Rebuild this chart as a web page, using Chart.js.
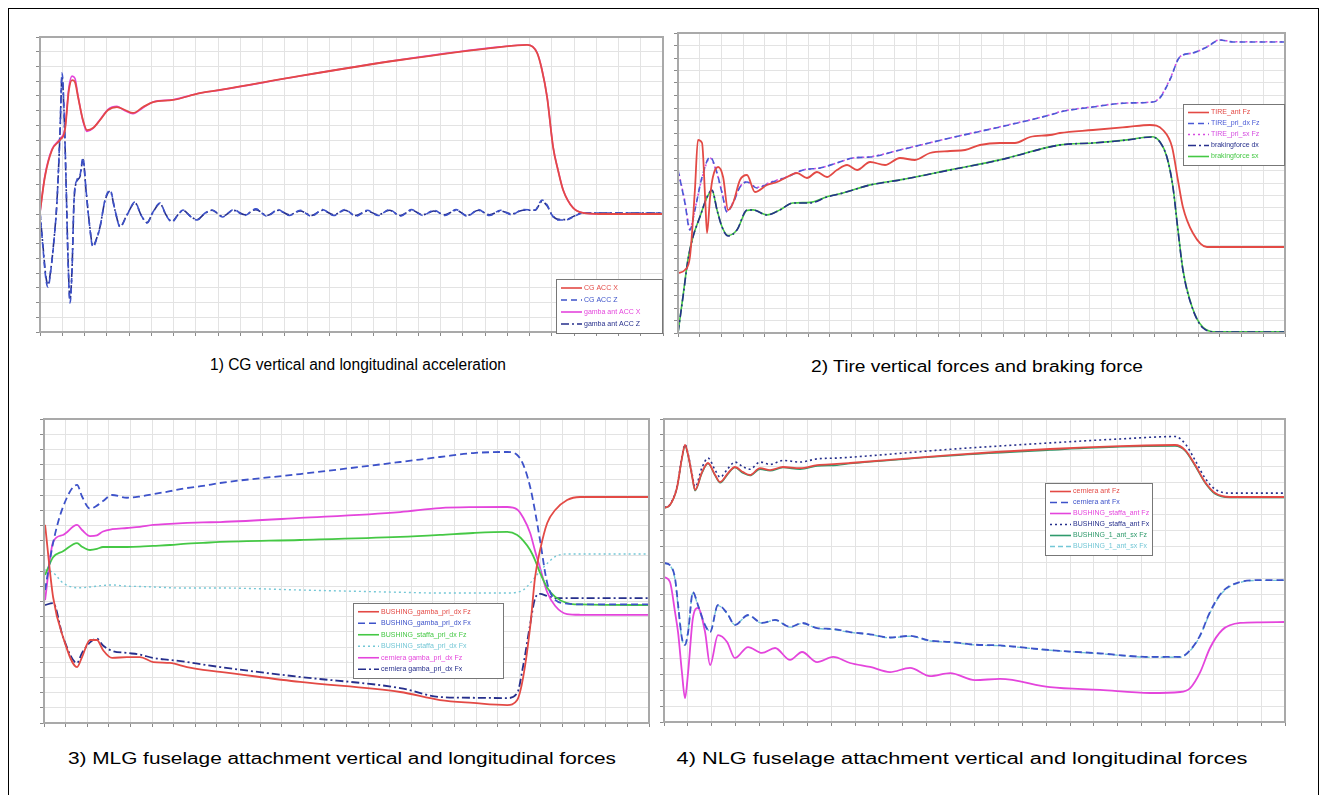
<!DOCTYPE html>
<html>
<head>
<meta charset="utf-8">
<script src="https://cdn.jsdelivr.net/npm/chart.js@4.4.1/dist/chart.umd.min.js"></script>
<style>
  body { margin: 0; background: #fff; width: 1327px; height: 795px; overflow: hidden; position: relative; font-family: "Liberation Sans", Arial, sans-serif; }
  #frame { position: absolute; left: 8px; top: 8px; width: 1309px; height: 790px; border: 1px solid #000; }
  canvas { position: absolute; }
  .cap { position: absolute; font-size: 16px; color: #000; white-space: nowrap; }
</style>
</head>
<body>
<div id="frame"></div>
<canvas id="c1" width="637" height="305" style="left:30px;top:33px"></canvas>
<canvas id="c2" width="621" height="310" style="left:668px;top:29px"></canvas>
<canvas id="c3" width="619" height="314" style="left:34px;top:415px"></canvas>
<canvas id="c4" width="635" height="313" style="left:654px;top:415px"></canvas>
<div class="cap" style="left:358px;top:356px;transform:translateX(-50%) scaleX(0.97)">1) CG vertical and longitudinal acceleration</div>
<div class="cap" style="left:977px;top:358px;transform:translateX(-50%) scaleX(1.2)">2) Tire vertical forces and braking force</div>
<div class="cap" style="left:342px;top:750px;transform:translateX(-50%) scaleX(1.3)">3) MLG fuselage attachment vertical and longitudinal forces</div>
<div class="cap" style="left:962px;top:750px;transform:translateX(-50%) scaleX(1.36)">4) NLG fuselage attachment vertical and longitudinal forces</div>
<script>
// ---- panel 1: CG accelerations (grid units)
const p1AccXTime = [0, 0.22, 0.54, 0.90, 1.12, 1.30, 1.44, 1.57, 1.71, 1.93, 2.11, 2.38, 2.70, 3.06, 3.46, 3.82, 4.18, 4.63, 5.08, 5.98, 7.19, 8.09, 11.69, 16.18, 20.67, 21.89, 22.34, 22.56, 22.79, 23.06, 23.28, 23.51, 23.96, 24.40, 25.17, 28];
const p1CgAccX = [8.14, 10.51, 12.34, 13.02, 13.69, 16.41, 17.08, 16.95, 15.93, 14.37, 13.69, 13.83, 14.37, 15.05, 15.25, 15.05, 14.85, 15.25, 15.59, 15.73, 16.20, 16.41, 17.36, 18.44, 19.32, 19.46, 18.92, 17.76, 15.93, 12.54, 10.98, 9.63, 8.41, 8.07, 8.0, 8.0];
const p1GambaAccX = [8.10, 10.60, 12.40, 13.10, 13.80, 16.60, 17.35, 17.20, 16.00, 14.30, 13.60, 13.80, 14.40, 15.10, 15.30, 15.00, 14.80, 15.20, 15.60, 15.75, 16.20, 16.40, 17.36, 18.45, 19.33, 19.47, 18.95, 17.80, 15.95, 12.55, 11.00, 9.65, 8.42, 8.08, 8.0, 8.0];
const p1AccZTime = [0, 0.13, 0.27, 0.36, 0.49, 0.63, 0.76, 0.90, 0.99, 1.08, 1.17, 1.26, 1.35, 1.44, 1.53, 1.66, 1.80, 1.93, 2.07, 2.20, 2.38, 2.56, 2.70, 2.92, 3.15, 3.37, 3.60, 3.91, 4.27, 4.54, 4.81, 5.08, 5.39, 5.66, 5.93, 6.20, 6.43, 6.74, 7.06, 7.42, 7.73,
  8.2, 8.7, 9.2, 9.7, 10.2, 10.7, 11.2, 11.7, 12.2, 12.7, 13.2, 13.7, 14.2, 14.7, 15.2, 15.7, 16.2, 16.7, 17.2, 17.7, 18.2, 18.7, 19.2, 19.7, 20.2, 20.7, 21.2, 21.7,
  22.25, 22.56, 22.79, 23.01, 23.24, 23.60, 24.04, 24.40, 28];
const p1CgAccZ = [8.14, 5.76, 3.53, 3.05, 4.20, 6.24, 8.75, 13.69, 17.56, 15.05, 10.31, 4.88, 1.97, 4.20, 8.95, 10.31, 10.64, 11.80, 9.63, 7.59, 5.76, 6.37, 7.12, 8.95, 9.63, 8.27, 7.12, 7.93, 8.81, 7.93, 7.39, 8.14, 8.75, 7.93, 7.46, 7.93, 8.27, 7.86, 7.59, 8.07, 8.27,
  7.8, 8.3, 7.9, 8.35, 7.85, 8.3, 7.9, 8.25, 7.85, 8.3, 7.9, 8.3, 7.85, 8.25, 7.9, 8.3, 7.85, 8.3, 7.9, 8.25, 7.9, 8.3, 7.85, 8.3, 7.9, 8.25, 7.95, 8.3,
  8.27, 8.95, 8.61, 7.93, 7.59, 7.59, 7.86, 8.07, 8.07];
const p1GambaAccZ = [8.14, 5.90, 3.70, 3.20, 4.30, 6.30, 8.80, 13.50, 17.30, 14.90, 10.20, 5.00, 2.20, 4.30, 8.90, 10.20, 10.55, 11.70, 9.60, 7.65, 5.85, 6.40, 7.15, 8.90, 9.55, 8.25, 7.15, 7.95, 8.75, 7.95, 7.42, 8.12, 8.70, 7.95, 7.50, 7.95, 8.25, 7.88, 7.62, 8.05, 8.25,
  7.85, 8.25, 7.95, 8.3, 7.9, 8.25, 7.95, 8.2, 7.9, 8.25, 7.95, 8.25, 7.9, 8.2, 7.95, 8.25, 7.9, 8.25, 7.95, 8.2, 7.95, 8.25, 7.9, 8.25, 7.95, 8.2, 8.0, 8.25,
  8.25, 8.85, 8.55, 7.95, 7.65, 7.62, 7.88, 8.07, 8.07];

// ---- panel 2: tire vertical forces and braking force
const p2AntTime = [0, 0.32, 0.55, 0.78, 0.92, 1.11, 1.25, 1.34, 1.48, 1.61, 1.85, 2.08, 2.31, 2.54, 2.86, 3.18, 3.55, 4.11, 4.57, 5.03, 5.49, 5.95, 6.41, 6.87, 7.33, 7.80, 8.26, 8.86, 9.55, 10.24, 10.93, 11.62, 12.55, 13.24, 13.93, 14.85, 15.54, 16.24, 17.16, 17.62, 19.14, 20.71, 21.77, 22.37, 22.79, 23.06, 23.29, 23.75, 24.40, 25.32, 28];
const p2TireAnt = [4.8, 5.04, 6.08, 11.44, 15.44, 15.2, 10.88, 8.0, 10.88, 12.48, 13.28, 12.48, 9.84, 10.4, 12.24, 12.64, 11.28, 11.84, 12.08, 12.48, 12.8, 12.4, 12.88, 12.48, 13.04, 13.44, 13.04, 13.68, 13.44, 14.0, 13.84, 14.4, 14.56, 14.64, 15.04, 15.2, 15.2, 15.68, 15.84, 16.0, 16.24, 16.48, 16.64, 16.24, 14.88, 12.24, 10.08, 8.0, 6.88, 6.88, 6.88];
const p2PriTime = [0, 0.32, 0.55, 0.78, 1.11, 1.48, 1.80, 2.03, 2.26, 2.54, 2.86, 3.18, 3.64, 4.24, 5.03, 5.77, 6.55, 7.33, 8.07, 8.86, 10.24, 12.55, 14.85, 17.16, 17.62, 19.14, 20.71, 21.91, 22.23, 22.69, 23.15, 23.75, 24.40, 25.0, 25.6, 28];
const p2TirePriDx = [13.04, 10.4, 8.24, 9.84, 12.48, 14.08, 12.8, 11.2, 9.68, 10.4, 11.68, 12.08, 11.6, 12.0, 12.48, 13.04, 13.2, 13.6, 14.0, 14.08, 14.64, 15.6, 16.48, 17.44, 17.68, 18.08, 18.4, 18.48, 18.8, 20.24, 22.08, 22.4, 22.88, 23.44, 23.28, 23.28];
const p2TirePriSx = [13.1, 10.5, 8.35, 9.9, 12.4, 14.0, 12.75, 11.25, 9.75, 10.45, 11.7, 12.1, 11.65, 12.05, 12.5, 13.05, 13.2, 13.6, 14.0, 14.1, 14.65, 15.6, 16.5, 17.45, 17.7, 18.1, 18.4, 18.5, 18.85, 20.3, 22.1, 22.4, 22.9, 23.45, 23.3, 23.3];
const p2BrakeTime = [0, 0.23, 0.46, 0.69, 1.01, 1.34, 1.57, 1.80, 2.03, 2.31, 2.72, 3.18, 3.46, 4.11, 4.70, 5.30, 6.09, 6.87, 7.61, 8.86, 10.24, 12.55, 14.85, 17.62, 19.14, 20.71, 21.86, 22.23, 22.55, 22.83, 23.06, 23.29, 23.71, 24.22, 24.86, 28];
const p2BrakeDx = [0, 2.88, 5.84, 7.68, 9.28, 10.88, 11.44, 9.84, 8.48, 7.76, 8.24, 9.84, 9.84, 9.44, 9.84, 10.4, 10.4, 10.88, 11.2, 11.84, 12.24, 13.04, 13.84, 15.04, 15.2, 15.44, 15.68, 15.28, 14.08, 11.68, 8.24, 5.04, 2.08, 0.4, 0.08, 0.08];
const p2BrakeSx = [0, 2.95, 5.9, 7.7, 9.3, 10.85, 11.4, 9.85, 8.5, 7.8, 8.25, 9.8, 9.85, 9.45, 9.85, 10.4, 10.45, 10.9, 11.2, 11.85, 12.25, 13.05, 13.85, 15.05, 15.2, 15.45, 15.7, 15.3, 14.1, 11.7, 8.3, 5.1, 2.1, 0.45, 0.1, 0.1];

// ---- panel 3: MLG fuselage attachment forces
const p3Time = [0.05, 0.42, 0.88, 1.53, 1.76, 2.13, 2.45, 2.73, 3.15, 3.84, 4.44, 5.05, 5.83, 6.62, 7.36, 8.15, 11.85, 16.48, 18.33, 19.86, 21.44, 21.90, 22.18, 22.50, 22.73, 22.96, 23.29, 23.66, 24.21, 24.81, 28];
const p3GambaFz = [13.03, 8.29, 5.66, 3.68, 4.34, 5.46, 5.46, 4.80, 4.28, 4.34, 4.34, 4.01, 3.95, 3.68, 3.49, 3.36, 2.70, 2.04, 1.51, 1.32, 1.18, 1.51, 3.03, 6.32, 9.61, 11.38, 13.16, 14.01, 14.67, 14.87, 14.87];
const p3GambaFx = [8.75, 11.84, 14.21, 15.66, 14.9, 14.1, 14.3, 14.6, 15.0, 14.82, 14.9, 15.05, 15.25, 15.46, 15.6, 15.79, 16.38, 17.17, 17.50, 17.76, 17.83, 17.63, 17.0, 15.53, 13.9, 12.0, 9.2, 8.1, 7.85, 7.8, 7.8];
const p3StaffaFz = [9.74, 10.9, 11.3, 11.84, 11.6, 11.38, 11.45, 11.58, 11.58, 11.58, 11.6, 11.65, 11.71, 11.8, 11.85, 11.91, 12.04, 12.24, 12.37, 12.5, 12.57, 12.37, 12.0, 11.38, 10.7, 9.87, 8.9, 8.3, 7.89, 7.8, 7.76];
const p3StaffaFx = [10.07, 9.9, 9.21, 8.9, 8.9, 8.95, 9.0, 9.05, 9.08, 9.0, 8.98, 8.95, 8.9, 8.88, 8.88, 8.88, 8.75, 8.6, 8.55, 8.55, 8.55, 8.6, 8.75, 9.2, 9.6, 10.0, 10.5, 10.95, 11.12, 11.12, 11.12];
const p3CernFz = [8.09, 11.9, 12.37, 13.03, 12.7, 12.3, 12.35, 12.6, 12.75, 12.83, 12.9, 13.03, 13.1, 13.16, 13.2, 13.22, 13.49, 13.88, 14.14, 14.2, 14.21, 14.05, 13.5, 12.5, 11.3, 10.2, 8.6, 7.7, 7.17, 7.12, 7.11];
const p3CernFx = [7.76, 7.89, 5.66, 3.95, 4.61, 5.3, 5.55, 5.1, 4.75, 4.61, 4.5, 4.28, 4.15, 4.01, 3.85, 3.68, 3.03, 2.30, 1.71, 1.66, 1.64, 1.97, 3.8, 6.5, 8.2, 8.5, 8.35, 8.22, 8.22, 8.22, 8.22];

// ---- panel 4: NLG fuselage attachment forces
const p4TopTime = [0, 0.25, 0.54, 0.75, 0.88, 1.01, 1.17, 1.30, 1.59, 1.84, 2.14, 2.35, 2.68, 2.97, 3.31, 3.60, 4.02, 4.44, 4.98, 5.70, 6.41, 7.24, 7.79, 11.98, 16.16, 19.10, 21.40, 21.82, 22.24, 22.65, 23.07, 23.70, 26];
const p4CernFz = [13.42, 13.61, 14.67, 16.55, 17.37, 16.74, 15.49, 14.55, 15.67, 16.24, 15.49, 15.05, 15.61, 15.99, 15.67, 15.49, 15.92, 15.80, 15.99, 15.92, 16.11, 16.18, 16.24, 16.74, 17.12, 17.30, 17.37, 17.05, 16.11, 15.05, 14.36, 14.11, 14.11];
const p4StaffaFx = [13.45, 13.65, 14.75, 16.6, 17.4, 16.8, 15.6, 14.75, 15.95, 16.55, 15.8, 15.35, 15.9, 16.3, 16.0, 15.85, 16.3, 16.15, 16.4, 16.3, 16.5, 16.55, 16.6, 17.1, 17.5, 17.75, 17.9, 17.45, 16.4, 15.3, 14.6, 14.35, 14.35];
const p4Bush1Fz = [13.4, 13.6, 14.65, 16.5, 17.3, 16.7, 15.45, 14.5, 15.6, 16.2, 15.45, 15.0, 15.55, 15.95, 15.6, 15.45, 15.85, 15.75, 15.95, 15.85, 16.05, 16.1, 16.2, 16.7, 17.05, 17.25, 17.3, 17.0, 16.05, 15.0, 14.3, 14.08, 14.08];
const p4LowTime = [0, 0.25, 0.46, 0.59, 0.75, 0.88, 1.01, 1.21, 1.42, 1.72, 1.93, 2.26, 2.64, 2.97, 3.52, 4.10, 4.65, 5.28, 5.78, 6.41, 7.08, 7.79, 8.63, 9.46, 10.30, 11.14, 11.98, 13.02, 14.07, 16.16, 18.26, 20.35, 21.61, 22.03, 22.45, 22.86, 23.37, 24.12, 24.96, 26];
const p4CernFx = [9.97, 9.84, 9.03, 7.34, 5.27, 4.83, 5.64, 8.15, 7.34, 6.08, 5.64, 7.34, 6.83, 6.08, 6.71, 6.21, 6.40, 5.96, 6.21, 5.89, 5.83, 5.64, 5.5, 5.3, 5.4, 5.1, 5.02, 4.85, 4.8, 4.51, 4.3, 4.08, 4.08, 4.51, 5.45, 6.90, 8.15, 8.78, 8.90, 8.90];
const p4Bush1Fx = [9.95, 9.8, 8.95, 7.25, 5.2, 4.9, 5.75, 8.1, 7.3, 6.05, 5.7, 7.3, 6.8, 6.1, 6.68, 6.2, 6.38, 5.95, 6.18, 5.88, 5.8, 5.62, 5.48, 5.28, 5.38, 5.08, 5.0, 4.83, 4.78, 4.5, 4.28, 4.06, 4.06, 4.48, 5.4, 6.85, 8.1, 8.75, 8.88, 8.88];
const p4StaffaFz = [9.09, 8.78, 6.90, 5.6, 3.13, 1.50, 3.13, 6.52, 7.15, 5.64, 3.57, 5.45, 5.02, 4.01, 4.70, 4.33, 4.64, 3.89, 4.39, 3.76, 4.08, 3.70, 3.45, 3.13, 3.39, 2.88, 3.07, 2.63, 2.70, 2.19, 2.01, 1.82, 1.88, 2.13, 3.13, 4.64, 5.77, 6.21, 6.25, 6.27];

function pts(xs, ys) { return xs.map((x, i) => ({ x: x, y: ys[i] })); }

function series(label, xs, ys, color, dash, width) {
    return {
        label: label,
        data: pts(xs, ys),
        borderColor: color,
        borderWidth: width || 1.6,
        borderDash: dash || [],
        pointRadius: 0,
        fill: false,
        cubicInterpolationMode: 'monotone'
    };
}

// frame round the plot area
const framePlugin = {
    id: 'plotFrame',
    afterDraw(chart) {
        const a = chart.chartArea, ctx = chart.ctx;
        ctx.save();
        ctx.strokeStyle = '#a9a9a9';
        ctx.lineWidth = 2;
        ctx.strokeRect(a.left, a.top, a.right - a.left, a.bottom - a.top);
        ctx.restore();
    }
};

// small boxed legend drawn inside the plot area
const boxLegend = {
    id: 'boxLegend',
    afterDraw(chart, args, opts) {
        const a = chart.chartArea, ctx = chart.ctx;
        const x = a.left + opts.x, y = a.top + opts.y;
        const h = opts.row * chart.data.datasets.length + 6;
        ctx.save();
        ctx.fillStyle = '#fff';
        ctx.fillRect(x, y, opts.w, h);
        ctx.strokeStyle = '#777';
        ctx.lineWidth = 1;
        ctx.strokeRect(x + 0.5, y + 0.5, opts.w, h);
        ctx.font = '7px "Liberation Sans", Arial, sans-serif';
        ctx.textBaseline = 'middle';
        chart.data.datasets.forEach((ds, i) => {
            const ly = y + 3 + opts.row * (i + 0.5);
            ctx.strokeStyle = ds.borderColor;
            ctx.lineWidth = 1.6;
            ctx.setLineDash(ds.borderDash || []);
            ctx.beginPath();
            ctx.moveTo(x + 5, ly);
            ctx.lineTo(x + 26, ly);
            ctx.stroke();
            ctx.setLineDash([]);
            ctx.fillStyle = ds.borderColor;
            ctx.fillText(ds.label, x + 28, ly);
        });
        ctx.restore();
    }
};

function makeChart(id, xMax, yMax, datasets, legend) {
    const gridStyle = { color: '#e3e3e3', lineWidth: 1, tickColor: '#8a8a8a', tickLength: 4, drawTicks: true };
    return new Chart(document.getElementById(id), {
        type: 'line',
        data: { datasets: datasets },
        options: {
            responsive: false,
            animation: false,
            layout: { padding: { left: 6, top: 4, right: 4, bottom: 2 } },
            plugins: { legend: { display: false }, tooltip: { enabled: false }, boxLegend: legend },
            scales: {
                x: { type: 'linear', min: 0, max: xMax, ticks: { display: false, stepSize: 1, maxTicksLimit: 100 }, grid: gridStyle, border: { display: false } },
                y: { type: 'linear', min: 0, max: yMax, ticks: { display: false, stepSize: 1, maxTicksLimit: 100 }, grid: gridStyle, border: { display: false } }
            }
        },
        plugins: [framePlugin, boxLegend]
    });
}

const red = '#e34a45', blue = '#3d52c9', magenta = '#e445dc', navy = '#262f8c', green = '#45c845', cyan = '#74c7d6';

makeChart('c1', 28, 20, [
    series('CG ACC X', p1AccXTime, p1CgAccX, red, [], 1.8),
    series('CG ACC Z', p1AccZTime, p1CgAccZ, blue, [6, 4]),
    series('gamba ant ACC X', p1AccXTime, p1GambaAccX, magenta, [], 1.6),
    series('gamba ant ACC Z', p1AccZTime, p1GambaAccZ, navy, [8, 3, 2, 3])
], { x: 516, y: 242, w: 106, row: 12 });

makeChart('c2', 28, 24, [
    series('TIRE_ant Fz', p2AntTime, p2TireAnt, red, [], 1.8),
    series('TIRE_pri_dx Fz', p2PriTime, p2TirePriDx, '#4a5ad6', [6, 4]),
    series('TIRE_pri_sx Fz', p2PriTime, p2TirePriSx, '#d54ce0', [2, 3]),
    series('brakingforce dx', p2BrakeTime, p2BrakeDx, navy, [8, 3, 2, 3]),
    series('brakingforce sx', p2BrakeTime, p2BrakeSx, green, [], 1.6)
], { x: 505, y: 71, w: 101, row: 11 });

makeChart('c3', 28, 20, [
    series('BUSHING_gamba_pri_dx Fz', p3Time, p3GambaFz, red, [], 1.8),
    series('BUSHING_gamba_pri_dx Fx', p3Time, p3GambaFx, blue, [7, 4], 1.8),
    series('BUSHING_staffa_pri_dx Fz', p3Time, p3StaffaFz, green, [], 1.8),
    series('BUSHING_staffa_pri_dx Fx', p3Time, p3StaffaFx, cyan, [2, 3], 1.4),
    series('cerniera gamba_pri_dx Fz', p3Time, p3CernFz, magenta, [], 1.8),
    series('cerniera gamba_pri_dx Fx', p3Time, p3CernFx, navy, [8, 3, 2, 3], 1.8)
], { x: 309, y: 184, w: 150, row: 11.5 });

makeChart('c4', 26, 19, [
    series('cerniera ant Fz', p4TopTime, p4CernFz, red, [], 1.8),
    series('cerniera ant Fx', p4LowTime, p4CernFx, blue, [7, 4], 1.8),
    series('BUSHING_staffa_ant Fz', p4LowTime, p4StaffaFz, magenta, [], 1.8),
    series('BUSHING_staffa_ant Fx', p4TopTime, p4StaffaFx, navy, [2, 3], 1.6),
    series('BUSHING_1_ant_sx Fz', p4TopTime, p4Bush1Fz, '#2f9a6c', [], 1.4),
    series('BUSHING_1_ant_sx Fx', p4LowTime, p4Bush1Fx, cyan, [5, 3], 1.4)
], { x: 381, y: 64, w: 107, row: 11 });
</script>
</body>
</html>
